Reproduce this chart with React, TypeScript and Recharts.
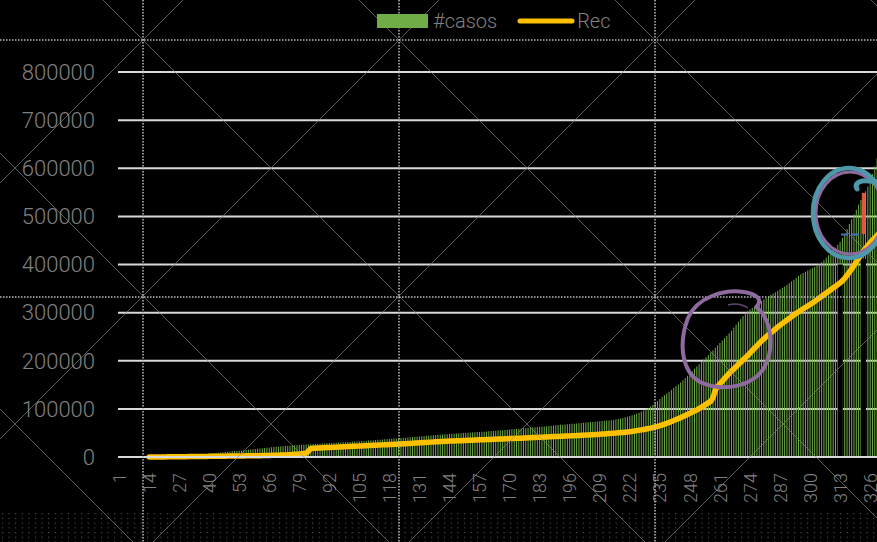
import React from 'react';
import { ComposedChart, Bar, Line, XAxis, YAxis, CartesianGrid, ReferenceLine } from 'recharts';

// Cumulative cases per day (day 1 .. 334)
const casos: number[] = [
  0, 0, 0, 0, 0, 0, 0, 0, 0, 0,
  0, 0, 0, 100, 150, 220, 300, 380, 470, 560,
  650, 760, 880, 1000, 1150, 1300, 1450, 1620, 1800, 2100,
  2500, 2900, 3300, 3800, 4300, 4800, 5300, 5800, 6300, 6900,
  7400, 7900, 8400, 8900, 9300, 9800, 10300, 10800, 11200, 11700,
  12100, 12600, 13000, 13500, 14100, 14600, 15200, 15700, 16300, 16800,
  17400, 17900, 18400, 18900, 19400, 19900, 20300, 20700, 21100, 21500,
  21900, 22300, 22700, 23100, 23500, 23900, 24300, 24600, 25000, 25300,
  25600, 25900, 26200, 26500, 26800, 27100, 27400, 27700, 28000, 28300,
  28600, 28900, 29200, 29500, 29800, 30000, 30300, 30600, 30900, 31200,
  31400, 31700, 32000, 32300, 32600, 33000, 33400, 33800, 34100, 34500,
  34900, 35300, 35700, 36000, 36400, 36800, 37100, 37500, 37900, 38200,
  38600, 39000, 39400, 39800, 40200, 40600, 41000, 41400, 41900, 42300,
  42700, 43100, 43500, 43900, 44300, 44700, 45100, 45500, 46000, 46400,
  46800, 47100, 47400, 47800, 48100, 48400, 48800, 49100, 49400, 49800,
  50100, 50400, 50800, 51100, 51400, 51700, 52000, 52400, 52700, 53000,
  53400, 53800, 54200, 54600, 55000, 55400, 55800, 56200, 56600, 57000,
  57500, 57900, 58400, 58900, 59300, 59700, 60100, 60600, 61000, 61400,
  61900, 62300, 62700, 63200, 63600, 64100, 64500, 65000, 65500, 66000,
  66400, 66800, 67200, 67600, 68000, 68500, 68900, 69300, 69800, 70200,
  70600, 71100, 71500, 72000, 72500, 72900, 73400, 73800, 74300, 74800,
  75200, 75700, 76100, 76600, 77100, 78000, 79000, 80100, 81200, 82400,
  83600, 85000, 86600, 88300, 90200, 92200, 94400, 96700, 99200, 101900,
  104800, 108500, 112400, 116300, 120400, 124600, 128300, 132000, 135800, 139500,
  143200, 147000, 150800, 154600, 159300, 164000, 168800, 173600, 178400, 183200,
  188000, 192800, 197600, 202400, 207300, 212200, 217100, 222000, 227000, 232000,
  237000, 242000, 247000, 252000, 257000, 263000, 269000, 275000, 281000, 287000,
  293000, 299000, 303000, 306500, 310000, 313500, 317000, 320500, 324000, 327500,
  330500, 333500, 336500, 339500, 342500, 345500, 348500, 351500, 354500, 358000,
  361500, 365000, 368500, 372000, 376000, 380000, 382500, 385000, 387500, 390000,
  392500, 395000, 397500, 400500, 404500, 409000, 414000, 419000, 424000, 429500,
  435000, 441000, 447000, 455000, 464000, 474000, 484000, 494000, 504000, 514000,
  524000, 534000, 543000, 552000, 562000, 574000, 588000, 604000, 621000, 636000,
  650000, 664000, 678000, 692000,
];

// Cumulative recovered per day (no record before day 14)
const recuperados: (number | null)[] = [
  null, null, null, null, null, null, null, null, null, null,
  null, null, null, 0, 0, 0, 50, 100, 150, 200,
  250, 300, 350, 400, 450, 500, 560, 620, 680, 740,
  800, 860, 920, 980, 1040, 1100, 1160, 1220, 1280, 1340,
  1400, 1460, 1520, 1580, 1640, 1700, 1760, 1820, 1880, 1940,
  2000, 2070, 2140, 2210, 2280, 2350, 2420, 2500, 2580, 2660,
  2750, 2850, 2950, 3060, 3170, 3290, 3420, 3560, 3700, 3850,
  4000, 4200, 4400, 4650, 4900, 5200, 5500, 5850, 6200, 6700,
  7300, 8000, 13000, 17500, 18200, 18400, 18600, 18900, 19100, 19300,
  19600, 19800, 20000, 20300, 20500, 20700, 21000, 21200, 21400, 21700,
  21900, 22100, 22400, 22600, 22800, 23100, 23300, 23500, 23800, 24000,
  24200, 24500, 24700, 24900, 25200, 25400, 25600, 25900, 26100, 26300,
  26600, 26800, 27100, 27400, 27700, 28000, 28300, 28600, 28900, 29200,
  29500, 29800, 30100, 30400, 30600, 30900, 31200, 31500, 31700, 32000,
  32200, 32500, 32700, 33000, 33200, 33400, 33600, 33800, 34000, 34200,
  34400, 34600, 34800, 35000, 35200, 35400, 35600, 35800, 36000, 36200,
  36400, 36600, 36800, 37000, 37200, 37400, 37600, 37800, 38000, 38200,
  38400, 38600, 38800, 39000, 39200, 39400, 39700, 39900, 40100, 40300,
  40600, 40800, 41000, 41200, 41500, 41700, 41900, 42100, 42400, 42600,
  42800, 43000, 43300, 43500, 43700, 43900, 44200, 44400, 44600, 44800,
  45100, 45300, 45500, 45700, 46000, 46300, 46600, 46900, 47200, 47600,
  48000, 48300, 48700, 49100, 49500, 49900, 50300, 50700, 51100, 51500,
  52000, 52600, 53300, 54000, 54800, 55600, 56400, 57300, 58200, 59100,
  60100, 61300, 62500, 63800, 65100, 66500, 68300, 70100, 72000, 73900,
  75800, 77800, 79800, 81800, 84100, 86400, 88700, 91000, 93300, 95600,
  98000, 100900, 103800, 106800, 109800, 112900, 116000, 124000, 140000, 147000,
  152500, 158000, 163500, 169000, 174000, 178700, 183400, 188100, 192800, 197500,
  202200, 206900, 211200, 216300, 221400, 226500, 231500, 236500, 241400, 245800,
  250000, 254200, 258300, 262300, 266300, 270200, 274000, 277600, 281200, 284800,
  288400, 291900, 295400, 298800, 301900, 305000, 308100, 311100, 314100, 317100,
  320000, 323500, 327000, 330500, 334000, 337500, 341000, 344500, 348000, 351500,
  355000, 358500, 362000, 366500, 372000, 378000, 384500, 391500, 398500, 406000,
  413500, 421000, 428000, 434000, 440000, 446000, 451000, 456000, 461000, 466000,
  471000, 476000, 481000, 486000,
];

const yTicks = [0, 100000, 200000, 300000, 400000, 500000, 600000, 700000, 800000];

// Days whose bars are blanked out by a black strip, and how high each strip reaches
const blankedDays = ['313', '323'];
const blankedTops = [400000, 412000];

const series = [
  { key: 'casos', name: '#casos', color: '#70ad47', kind: 'bar' },
  { key: 'rec', name: 'Rec', color: '#ffc000', kind: 'line' },
];

const days = casos.map((_, i) => String(i + 1));
const data = days.map((day, i) => ({ day, casos: casos[i], rec: recuperados[i] }));

const FONT = "Roboto, 'Liberation Sans', Arial, sans-serif";
const TEXT_GRAY = '#808080';
const GRID = '#d9d9d9';

const DayTick = (props: any) => {
  const { x, y, payload } = props;
  return (
    <text
      x={x}
      y={y}
      transform={`rotate(-90 ${x} ${y})`}
      textAnchor="end"
      dy="0.36em"
      fill={TEXT_GRAY}
      fontSize={18}
      fontWeight={300}
      fontFamily={FONT}
    >
      {payload.value}
    </text>
  );
};

const LegendRow = () => (
  <div
    style={{
      position: 'absolute',
      left: 377,
      top: 10,
      height: 22,
      display: 'flex',
      alignItems: 'center',
      fontFamily: FONT,
      fontWeight: 300,
      fontSize: 20,
      color: TEXT_GRAY,
      whiteSpace: 'nowrap',
    }}
  >
    {series.map((s, i) => (
      <div key={s.key} style={{ display: 'flex', alignItems: 'center', marginLeft: i === 0 ? 0 : 20 }}>
        {s.kind === 'bar' ? (
          <span style={{ display: 'inline-block', width: 51, height: 14, background: s.color, marginRight: 5 }} />
        ) : (
          <svg width={58} height={8} style={{ marginRight: 2 }}>
            <line x1={3} y1={4} x2={55} y2={4} stroke={s.color} strokeWidth={5} strokeLinecap="round" />
          </svg>
        )}
        <span style={{ lineHeight: '22px' }}>{s.name}</span>
      </div>
    ))}
  </div>
);

// Guide pattern, dot band and pen annotations laid over the chart
const Overlay = () => {
  const diagDown = [-665, -409, -153, 103, 359, 615, 871, 1127];
  const diagUp = [-73, 183, 439, 695, 951, 1207, 1463];
  return (
    <svg
      width={877}
      height={542}
      style={{ position: 'absolute', left: 0, top: 0, pointerEvents: 'none' }}
    >
      <defs>
        <pattern id="dotband" patternUnits="userSpaceOnUse" width={6.6} height={4.7}>
          <rect x={2} y={1} width={1} height={1} fill="#6a6a6a" />
        </pattern>
      </defs>
      <rect x={0} y={513} width={877} height={29} fill="url(#dotband)" />
      {diagDown.map((c) => (
        <line key={`d${c}`} x1={c - 60} y1={-60} x2={c + 620} y2={620} stroke="#8c8c8c" strokeWidth={1} opacity={0.65} />
      ))}
      {diagUp.map((s) => (
        <line key={`u${s}`} x1={s + 60} y1={-60} x2={s - 620} y2={620} stroke="#8c8c8c" strokeWidth={1} opacity={0.65} />
      ))}
      {[40, 297].map((y) => (
        <line key={`h${y}`} x1={0} y1={y} x2={877} y2={y} stroke="#bdbdbd" strokeWidth={1.5} strokeDasharray="1.5 1.5" />
      ))}
      {[143, 399, 655].map((x) => (
        <line key={`v${x}`} x1={x} y1={0} x2={x} y2={542} stroke="#bdbdbd" strokeWidth={1.5} strokeDasharray="1.5 1.5" />
      ))}

      {/* purple loop */}
      <path
        d="M 756 307 C 771 318, 775 346, 765 366 C 755 386, 724 393, 700 382 C 682 372, 678 344, 688 318 C 697 297, 724 289, 744 292 C 756 294, 763 299, 757 306"
        fill="none"
        stroke="#8e6a9f"
        strokeWidth={4}
        strokeLinecap="round"
      />
      <path d="M 728 305 C 735 303, 742 304, 748 308" fill="none" stroke="#5e4670" strokeWidth={1.5} />

      {/* teal and purple loops */}
      <ellipse cx={850} cy={213} rx={34} ry={41} fill="none" stroke="#8e6a9f" strokeWidth={3} />
      <ellipse cx={849} cy={213} rx={36} ry={45} fill="none" stroke="#4e98a9" strokeWidth={4.5} />
      <path d="M 857 189 C 854 183, 860 180, 869 181 L 882 182" fill="none" stroke="#4e98a9" strokeWidth={5} strokeLinecap="round" />

      {/* red marker and blue dashed level */}
      <line x1={863.5} y1={193} x2={863.5} y2={234} stroke="#e0583a" strokeWidth={3.5} />
      <line x1={841} y1={234.5} x2={864} y2={234.5} stroke="#4472c4" strokeWidth={2} strokeDasharray="7 4" />
    </svg>
  );
};

export default function App() {
  return (
    <div
      style={{
        position: 'fixed',
        left: 0,
        top: 0,
        width: 877,
        height: 542,
        background: '#000',
        overflow: 'hidden',
      }}
    >
      <div style={{ position: 'absolute', left: 0, top: 0 }}>
        <ComposedChart
          width={900}
          height={542}
          data={data}
          margin={{ top: 72, right: 10, bottom: 25, left: 0 }}
          barCategoryGap="20%"
        >
          <CartesianGrid horizontal vertical={false} stroke={GRID} strokeWidth={2} />
          <XAxis
            dataKey="day"
            type="category"
            interval={12}
            height={60}
            tickSize={0}
            tickMargin={16}
            tickLine={false}
            axisLine={{ stroke: GRID, strokeWidth: 2 }}
            tick={<DayTick />}
          />
          <YAxis
            width={118}
            domain={[0, 800000]}
            ticks={yTicks}
            interval={0}
            axisLine={false}
            tickLine={false}
            tickSize={0}
            tickMargin={23}
            tick={{ fill: TEXT_GRAY, fontSize: 22, fontFamily: FONT, fontWeight: 300 }}
          />
          <Bar dataKey="casos" name="#casos" fill="#70ad47" isAnimationActive={false} />
          {blankedDays.map((d, i) => (
            <ReferenceLine
              key={d}
              segment={[
                { x: d, y: -3000 },
                { x: d, y: blankedTops[i] },
              ]}
              ifOverflow="visible"
              stroke="#000"
              strokeWidth={5}
            />
          ))}
          <Line
            dataKey="rec"
            name="Rec"
            type="linear"
            stroke="#ffc000"
            strokeWidth={5.5}
            strokeLinecap="round"
            strokeLinejoin="round"
            dot={false}
            activeDot={false}
            isAnimationActive={false}
          />
        </ComposedChart>
      </div>
      <Overlay />
      <LegendRow />
    </div>
  );
}
